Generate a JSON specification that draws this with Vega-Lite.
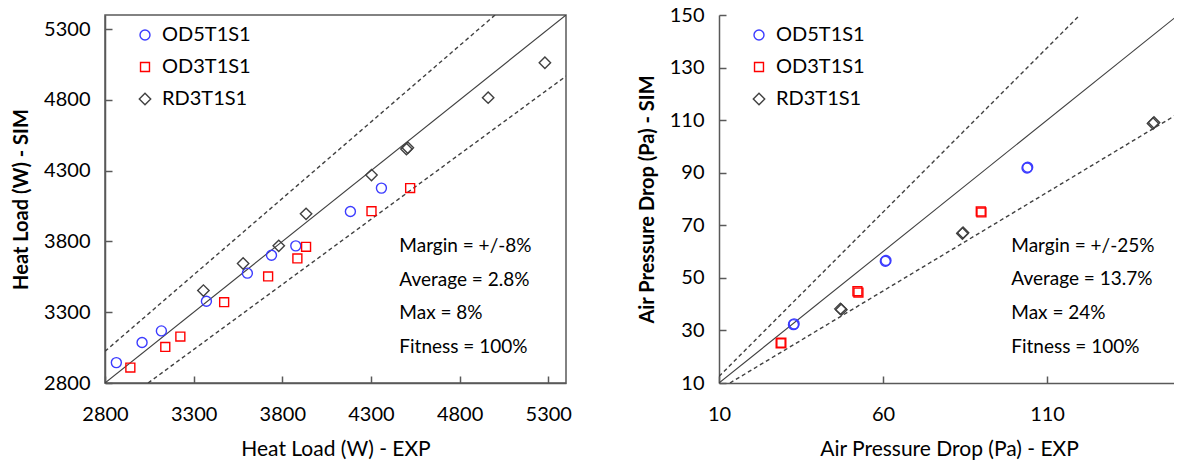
{
  "$schema": "https://vega.github.io/schema/vega-lite/v6.json",
  "padding": {"left": 10, "top": 5, "right": 0, "bottom": 0},
  "background": "white",
  "config": {
    "font": "Lato",
    "view": {"stroke": null},
    "axis": {
      "domainColor": "#595959", "domainWidth": 1.5,
      "tickColor": "#595959", "tickWidth": 1.5, "tickSize": -7,
      "grid": false, "format": "d",
      "labelFont": "Lato", "labelFontSize": 20, "labelColor": "#000000",
      "labelFlush": false, "labelOverlap": false,
      "titleFont": "Lato", "titleColor": "#000000", "titleFontSize": 21, "titleFontWeight": "normal"
    },
    "axisX": {"labelPadding": 28, "titlePadding": 14},
    "axisY": {"labelPadding": 22, "titlePadding": 12, "titleFontWeight": "bold", "titleFontSize": 20},
    "legend": {
      "labelFont": "Lato", "labelFontSize": 20, "labelColor": "#000000",
      "rowPadding": 12, "labelOffset": 7, "padding": 0, "symbolStrokeWidth": 1.4,
      "labelLimit": 300
    }
  },
  "datasets": {
    "left": [
      {"series": "OD5T1S1", "exp": 2864, "sim": 2944},
      {"series": "OD5T1S1", "exp": 3009, "sim": 3086},
      {"series": "OD5T1S1", "exp": 3118, "sim": 3168},
      {"series": "OD5T1S1", "exp": 3372, "sim": 3378},
      {"series": "OD5T1S1", "exp": 3603, "sim": 3576},
      {"series": "OD5T1S1", "exp": 3739, "sim": 3703},
      {"series": "OD5T1S1", "exp": 3876, "sim": 3769},
      {"series": "OD5T1S1", "exp": 4184, "sim": 4012},
      {"series": "OD5T1S1", "exp": 4359, "sim": 4177},
      {"series": "OD3T1S1", "exp": 2943, "sim": 2909},
      {"series": "OD3T1S1", "exp": 3140, "sim": 3055},
      {"series": "OD3T1S1", "exp": 3225, "sim": 3128},
      {"series": "OD3T1S1", "exp": 3472, "sim": 3371},
      {"series": "OD3T1S1", "exp": 3720, "sim": 3553},
      {"series": "OD3T1S1", "exp": 3885, "sim": 3680},
      {"series": "OD3T1S1", "exp": 3934, "sim": 3762},
      {"series": "OD3T1S1", "exp": 4303, "sim": 4014},
      {"series": "OD3T1S1", "exp": 4521, "sim": 4177},
      {"series": "RD3T1S1", "exp": 3355, "sim": 3453},
      {"series": "RD3T1S1", "exp": 3579, "sim": 3644},
      {"series": "RD3T1S1", "exp": 3780, "sim": 3769},
      {"series": "RD3T1S1", "exp": 3934, "sim": 3995},
      {"series": "RD3T1S1", "exp": 4303, "sim": 4269},
      {"series": "RD3T1S1", "exp": 4500, "sim": 4453},
      {"series": "RD3T1S1", "exp": 4508, "sim": 4462},
      {"series": "RD3T1S1", "exp": 4961, "sim": 4816},
      {"series": "RD3T1S1", "exp": 5281, "sim": 5063}
    ],
    "right": [
      {"series": "OD5T1S1", "exp": 32.7, "sim": 32.2},
      {"series": "OD5T1S1", "exp": 32.9, "sim": 32.5},
      {"series": "OD5T1S1", "exp": 60.7, "sim": 56.3},
      {"series": "OD5T1S1", "exp": 60.9, "sim": 56.6},
      {"series": "OD5T1S1", "exp": 103.9, "sim": 91.8},
      {"series": "OD5T1S1", "exp": 104.1, "sim": 92.1},
      {"series": "OD3T1S1", "exp": 28.8, "sim": 25.1},
      {"series": "OD3T1S1", "exp": 29.0, "sim": 25.3},
      {"series": "OD3T1S1", "exp": 52.2, "sim": 44.9},
      {"series": "OD3T1S1", "exp": 52.5, "sim": 44.4},
      {"series": "OD3T1S1", "exp": 89.8, "sim": 75.3},
      {"series": "OD3T1S1", "exp": 90.0, "sim": 74.9},
      {"series": "RD3T1S1", "exp": 47.0, "sim": 38.2},
      {"series": "RD3T1S1", "exp": 47.3, "sim": 37.9},
      {"series": "RD3T1S1", "exp": 84.2, "sim": 66.9},
      {"series": "RD3T1S1", "exp": 84.4, "sim": 67.2},
      {"series": "RD3T1S1", "exp": 142.3, "sim": 108.7},
      {"series": "RD3T1S1", "exp": 142.6, "sim": 109.1}
    ],
    "leftLines": [
      {"kind": "equal", "exp": 2800, "sim": 2800},
      {"kind": "equal", "exp": 5400, "sim": 5400},
      {"kind": "upper", "exp": 2800, "sim": 3024},
      {"kind": "upper", "exp": 5000, "sim": 5400},
      {"kind": "lower", "exp": 3043, "sim": 2800},
      {"kind": "lower", "exp": 5400, "sim": 4968}
    ],
    "rightLines": [
      {"kind": "equal", "exp": 10, "sim": 10},
      {"kind": "equal", "exp": 150, "sim": 150},
      {"kind": "upper", "exp": 10, "sim": 12.5},
      {"kind": "upper", "exp": 120, "sim": 150},
      {"kind": "lower", "exp": 13.33, "sim": 10},
      {"kind": "lower", "exp": 150, "sim": 112.5}
    ],
    "leftNotes": [
      {"note": ["Margin = +/-8%", "Average = 2.8%", "Max = 8%", "Fitness = 100%"]}
    ],
    "rightNotes": [
      {"note": ["Margin = +/-25%", "Average = 13.7%", "Max = 24%", "Fitness = 100%"]}
    ]
  },
  "resolve": {
    "scale": {"color": "independent", "shape": "independent", "size": "independent"},
    "legend": {"color": "independent", "shape": "independent", "size": "independent"}
  },
  "spacing": 64,
  "hconcat": [
    {
      "width": 461,
      "height": 368,
      "view": {"stroke": "#595959", "strokeWidth": 1.5},
      "layer": [
        {
          "data": {"name": "leftLines"},
          "transform": [{"filter": "datum.kind === 'equal'"}],
          "mark": {"type": "line", "clip": true, "color": "#404040", "strokeWidth": 1.1},
          "encoding": {
            "x": {"field": "exp", "type": "quantitative", "scale": {"domain": [2800, 5400], "nice": false, "zero": false},
                  "axis": {"values": [2800, 3300, 3800, 4300, 4800, 5300], "title": "Heat Load (W) - EXP"}},
            "y": {"field": "sim", "type": "quantitative", "scale": {"domain": [2800, 5400], "nice": false, "zero": false},
                  "axis": {"values": [2800, 3300, 3800, 4300, 4800, 5300], "title": "Heat Load (W) - SIM"}},
            "detail": {"field": "kind"}
          }
        },
        {
          "data": {"name": "leftLines"},
          "transform": [{"filter": "datum.kind !== 'equal'"}],
          "mark": {"type": "line", "clip": true, "color": "#404040", "strokeWidth": 1.4, "strokeDash": [4, 3]},
          "encoding": {
            "x": {"field": "exp", "type": "quantitative"},
            "y": {"field": "sim", "type": "quantitative"},
            "detail": {"field": "kind"}
          }
        },
        {
          "data": {"name": "left"},
          "mark": {"type": "point", "filled": false, "strokeWidth": 1.4, "opacity": 1},
          "encoding": {
            "x": {"field": "exp", "type": "quantitative"},
            "y": {"field": "sim", "type": "quantitative"},
            "color": {"field": "series", "type": "nominal",
                      "scale": {"domain": ["OD5T1S1", "OD3T1S1", "RD3T1S1"], "range": ["#3c3cff", "#ff0000", "#404040"]},
                      "legend": {"title": null, "orient": "none", "legendX": 30, "legendY": 10}},
            "shape": {"field": "series", "type": "nominal",
                      "scale": {"domain": ["OD5T1S1", "OD3T1S1", "RD3T1S1"], "range": ["circle", "square", "diamond"]},
                      "legend": {"title": null, "orient": "none", "legendX": 30, "legendY": 10}},
            "size": {"field": "series", "type": "nominal",
                      "scale": {"type": "ordinal", "domain": ["OD5T1S1", "OD3T1S1", "RD3T1S1"], "range": [100, 80, 130]},
                      "legend": {"title": null, "orient": "none", "legendX": 30, "legendY": 10}}
          }
        },
        {
          "data": {"name": "leftNotes"},
          "mark": {"type": "text", "align": "left", "baseline": "middle", "fontSize": 19, "lineHeight": 33.7, "color": "#000000", "font": "Lato"},
          "encoding": {
            "x": {"datum": 4460, "type": "quantitative"},
            "y": {"datum": 3769, "type": "quantitative"},
            "text": {"field": "note"}
          }
        }
      ]
    },
    {
      "width": 455,
      "height": 368,
      "layer": [
        {
          "data": {"name": "rightLines"},
          "transform": [{"filter": "datum.kind === 'equal'"}],
          "mark": {"type": "line", "clip": true, "color": "#404040", "strokeWidth": 1.1},
          "encoding": {
            "x": {"field": "exp", "type": "quantitative", "scale": {"domain": [10, 148.7], "nice": false, "zero": false},
                  "axis": {"values": [10, 60, 110], "title": "Air Pressure Drop (Pa) - EXP", "titleX": 230}},
            "y": {"field": "sim", "type": "quantitative", "scale": {"domain": [10, 150], "nice": false, "zero": false},
                  "axis": {"values": [10, 30, 50, 70, 90, 110, 130, 150], "title": "Air Pressure Drop (Pa) - SIM", "titlePadding": 12}},
            "detail": {"field": "kind"}
          }
        },
        {
          "data": {"name": "rightLines"},
          "transform": [{"filter": "datum.kind !== 'equal'"}],
          "mark": {"type": "line", "clip": true, "color": "#404040", "strokeWidth": 1.4, "strokeDash": [4, 3]},
          "encoding": {
            "x": {"field": "exp", "type": "quantitative"},
            "y": {"field": "sim", "type": "quantitative"},
            "detail": {"field": "kind"}
          }
        },
        {
          "mark": {"type": "rule", "color": "#595959", "strokeWidth": 1.5},
          "encoding": {"y": {"datum": 150, "type": "quantitative"}}
        },
        {
          "data": {"name": "right"},
          "mark": {"type": "point", "filled": false, "strokeWidth": 1.4, "opacity": 1},
          "encoding": {
            "x": {"field": "exp", "type": "quantitative"},
            "y": {"field": "sim", "type": "quantitative"},
            "color": {"field": "series", "type": "nominal",
                      "scale": {"domain": ["OD5T1S1", "OD3T1S1", "RD3T1S1"], "range": ["#3c3cff", "#ff0000", "#404040"]},
                      "legend": {"title": null, "orient": "none", "legendX": 30, "legendY": 10}},
            "shape": {"field": "series", "type": "nominal",
                      "scale": {"domain": ["OD5T1S1", "OD3T1S1", "RD3T1S1"], "range": ["circle", "square", "diamond"]},
                      "legend": {"title": null, "orient": "none", "legendX": 30, "legendY": 10}},
            "size": {"field": "series", "type": "nominal",
                      "scale": {"type": "ordinal", "domain": ["OD5T1S1", "OD3T1S1", "RD3T1S1"], "range": [100, 80, 130]},
                      "legend": {"title": null, "orient": "none", "legendX": 30, "legendY": 10}}
          }
        },
        {
          "data": {"name": "rightNotes"},
          "mark": {"type": "text", "align": "left", "baseline": "middle", "fontSize": 19, "lineHeight": 33.7, "color": "#000000", "font": "Lato"},
          "encoding": {
            "x": {"datum": 99.1, "type": "quantitative"},
            "y": {"datum": 62.2, "type": "quantitative"},
            "text": {"field": "note"}
          }
        }
      ]
    }
  ]
}
